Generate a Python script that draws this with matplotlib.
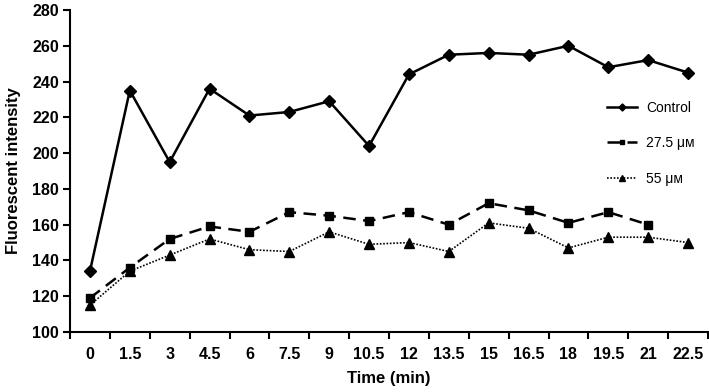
import matplotlib
matplotlib.use("Agg")
import matplotlib.pyplot as plt
from matplotlib import font_manager
import numpy as np

times = ["0", "1.5", "3", "4.5", "6", "7.5", "9", "10.5", "12", "13.5", "15", "16.5", "18", "19.5", "21", "22.5"]
control = [134, 235, 195, 236, 221, 223, 229, 204, 244, 255, 256, 255, 260, 248, 252, 245]
dose_27_5 = [119, 136, 152, 159, 156, 167, 165, 162, 167, 160, 172, 168, 161, 167, 160]
dose_55 = [115, 134, 143, 152, 146, 145, 156, 149, 150, 145, 161, 158, 147, 153, 153, 150]
series_labels = ["Control", "27.5 \u03bc\u043c", "55 \u03bc\u043c"]
yticks = [100, 120, 140, 160, 180, 200, 220, 240, 260, 280]

names = {f.name for f in font_manager.fontManager.ttflist}
bold_font = "Liberation Sans Narrow" if "Liberation Sans Narrow" in names else "Liberation Sans"

fig = plt.figure(figsize=(7.09, 3.92), dpi=100)
ax = fig.add_axes([70/709, 60/392, 638/709, 322/392])

x = np.arange(len(times))
ax.plot(x, control, color="black", lw=1.8, marker="D", ms=6, label=series_labels[0])
ax.plot(x[:len(dose_27_5)], dose_27_5, color="black", lw=1.8, ls=(0, (5, 3)), marker="s", ms=5.5, label=series_labels[1])
ax.plot(x, dose_55, color="black", lw=1.2, ls=(0, (1, 1)), marker="^", ms=7, label=series_labels[2])

ax.set_xlim(-0.5, len(times) - 0.5)
ax.set_ylim(100, 280)
ax.set_xticks(x)
ax.set_xticklabels(times)
ax.set_xticks(np.arange(-0.5, len(times), 1.0), minor=True)
ax.tick_params(axis="x", which="major", length=0, pad=11)
ax.tick_params(axis="x", which="minor", length=5, width=1.5, direction="out")
ax.set_yticks(yticks)
ax.tick_params(axis="y", length=5, width=1.5, direction="out", pad=3)
for lab in ax.get_xticklabels() + ax.get_yticklabels():
    lab.set_fontfamily(bold_font)
    lab.set_fontweight("bold")
    lab.set_fontsize(11.5)

for s in ["top", "right"]:
    ax.spines[s].set_visible(False)
for s in ["left", "bottom"]:
    ax.spines[s].set_linewidth(1.5)

ax.set_xlabel("Time (min)", fontfamily=bold_font, fontweight="bold", fontsize=12, labelpad=6)
ax.set_ylabel("Fluorescent intensity", fontfamily=bold_font, fontweight="bold", fontsize=12, labelpad=8)

leg = ax.legend(loc="upper left", bbox_to_anchor=(0.822, 0.757), frameon=False,
                handlelength=2.2, handletextpad=0.6, labelspacing=1.55, markerscale=0.6,
                prop={"family": "Liberation Sans", "size": 10})

fig.savefig("out.png", dpi=100)
